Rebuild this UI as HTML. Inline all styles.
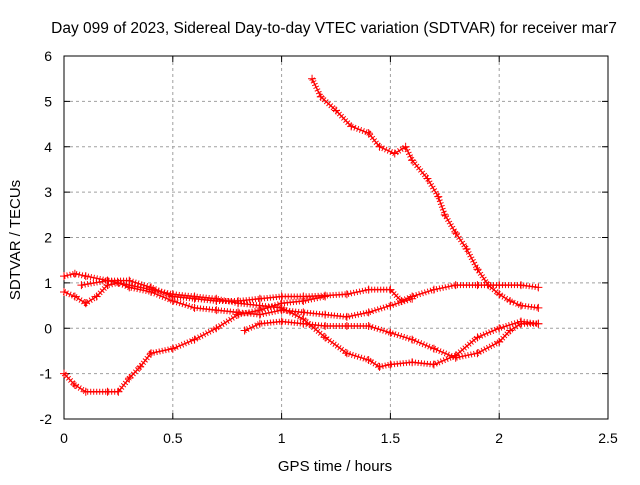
<!DOCTYPE html>
<html><head><meta charset="utf-8"><style>
body{margin:0;background:#fff}
text{font-family:"Liberation Sans",sans-serif;font-size:14px;fill:#000}
</style></head><body>
<svg id="chart" width="640" height="480" viewBox="0 0 640 480" xmlns="http://www.w3.org/2000/svg">
<rect width="640" height="480" fill="#fff"/>
<text x="334" y="33" text-anchor="middle" style="font-size:15.5px">Day 099 of 2023, Sidereal Day-to-day VTEC variation (SDTVAR) for receiver mar7</text>
<g id="grid"></g>
<g id="axes"></g>
<g id="series"></g>
<text x="335" y="471" text-anchor="middle" style="font-size:15px">GPS time / hours</text>
<text x="20" y="240" text-anchor="middle" transform="rotate(-90 20 240)" style="font-size:15px">SDTVAR / TECUs</text>
</svg>
<script>
const xTicks=[0,0.5,1,1.5,2,2.5];
const xTickLabels=["0","0.5","1","1.5","2","2.5"];
const yTicks=[-2,-1,0,1,2,3,4,5,6];
const yTickLabels=["-2","-1","0","1","2","3","4","5","6"];
const s1x=[1.14,1.18,1.25,1.32,1.4,1.45,1.52,1.57,1.6,1.67,1.72,1.75,1.8,1.85,1.9,1.95,2.0,2.05,2.1,2.18];
const s1y=[5.5,5.1,4.8,4.45,4.3,4.0,3.85,4.0,3.7,3.3,2.9,2.5,2.1,1.75,1.3,0.95,0.75,0.6,0.5,0.45];
const s2x=[0,0.05,0.1,0.2,0.3,0.4,0.5,0.6,0.7,0.8,0.9,1.0,1.1,1.2,1.3,1.4,1.5,1.55,1.6,1.7,1.8,1.9,2.0,2.1,2.18];
const s2y=[1.15,1.2,1.15,1.05,1.05,0.9,0.7,0.65,0.6,0.6,0.65,0.7,0.7,0.72,0.75,0.85,0.85,0.6,0.7,0.85,0.95,0.95,0.95,0.95,0.9];
const s3x=[0,0.05,0.1,0.15,0.2,0.25,0.3,0.4,0.5,0.6,0.7,0.8,0.9,1.0,1.1,1.2,1.3,1.4,1.5,1.6];
const s3y=[0.8,0.7,0.55,0.7,0.95,1.0,0.9,0.8,0.6,0.45,0.4,0.35,0.3,0.4,0.35,0.3,0.25,0.35,0.5,0.65];
const s4x=[0.08,0.2,0.3,0.4,0.5,0.6,0.7,0.8,0.9,1.0,1.1,1.2,1.3,1.4,1.45,1.5,1.6,1.7,1.8,1.9,2.0,2.1,2.18];
const s4y=[0.95,1.05,0.95,0.85,0.75,0.7,0.65,0.55,0.5,0.45,0.2,-0.2,-0.55,-0.7,-0.85,-0.8,-0.75,-0.8,-0.6,-0.2,0.0,0.15,0.1];
const s5x=[0,0.05,0.1,0.2,0.25,0.3,0.35,0.4,0.5,0.6,0.7,0.8,0.9,1.0,1.1,1.2];
const s5y=[-1.0,-1.25,-1.4,-1.4,-1.4,-1.1,-0.85,-0.55,-0.45,-0.25,0.0,0.3,0.4,0.55,0.6,0.7];
const s6x=[0.83,0.9,1.0,1.1,1.2,1.3,1.4,1.5,1.6,1.7,1.8,1.9,2.0,2.05,2.1,2.18];
const s6y=[-0.05,0.1,0.15,0.1,0.05,0.05,0.05,-0.1,-0.25,-0.45,-0.65,-0.55,-0.3,-0.05,0.1,0.1];
const allSeries=[[s1x,s1y],[s2x,s2y],[s3x,s3y],[s4x,s4y],[s5x,s5y],[s6x,s6y]];
const X0=64,X1=608,Y0=419,Y1=56;
function xs(v){return X0+(v-0)/(2.5-0)*(X1-X0);}
function ys(v){return Y0-(v+2)/(8)*(Y0-Y1);}
const NS="http://www.w3.org/2000/svg";
function mk(t,a,p){const e=document.createElementNS(NS,t);for(const k in a)e.setAttribute(k,a[k]);p.appendChild(e);return e;}
const grid=document.getElementById('grid'),axes=document.getElementById('axes'),ser=document.getElementById('series');
xTicks.forEach((t,i)=>{const x=xs(t);
 if(i>0&&i<xTicks.length-1){const g=mk('line',{x1:x,x2:x,y1:Y1,y2:Y0,stroke:'#a0a0a0','stroke-dasharray':'3,3'},grid);
 
 }
 mk('line',{x1:x,x2:x,y1:Y0,y2:Y0-6,stroke:'#000'},axes);mk('line',{x1:x,x2:x,y1:Y1,y2:Y1+6,stroke:'#000'},axes);
 const l=mk('text',{x:x,y:Y0+24,'text-anchor':'middle'},axes);l.textContent=xTickLabels[i];
 
 });
yTicks.forEach((t,i)=>{const y=ys(t);
 if(i>0&&i<yTicks.length-1){const g=mk('line',{x1:X0,x2:X1,y1:y,y2:y,stroke:'#a0a0a0','stroke-dasharray':'3,3'},grid);
 
 }
 mk('line',{x1:X0,x2:X0+6,y1:y,y2:y,stroke:'#000'},axes);mk('line',{x1:X1,x2:X1-6,y1:y,y2:y,stroke:'#000'},axes);
 const l=mk('text',{x:X0-12,y:y+5,'text-anchor':'end'},axes);l.textContent=yTickLabels[i];
 
 });
mk('rect',{x:X0,y:Y1,width:X1-X0,height:Y0-Y1,fill:'none',stroke:'#000'},axes);
allSeries.forEach((s,si)=>{const g=mk('g',{},ser);
 
 
 const pts=s[0].map((x,i)=>xs(x)+','+ys(s[1][i])).join(' ');
 mk('polyline',{points:pts,fill:'none',stroke:'#ff0000','stroke-width':6,'stroke-linejoin':'round','stroke-dasharray':'1,2'},g);
 mk('polyline',{points:pts,fill:'none',stroke:'#ff0000','stroke-width':1.5},g);
 s[0].forEach((x,i)=>{const px=xs(x),py=ys(s[1][i]);
  const m=mk('path',{d:`M${px-4},${py}H${px+4}M${px},${py-4}V${py+4}`,stroke:'#ff0000','stroke-width':1},g);
  
  });});
</script>
</body></html>
